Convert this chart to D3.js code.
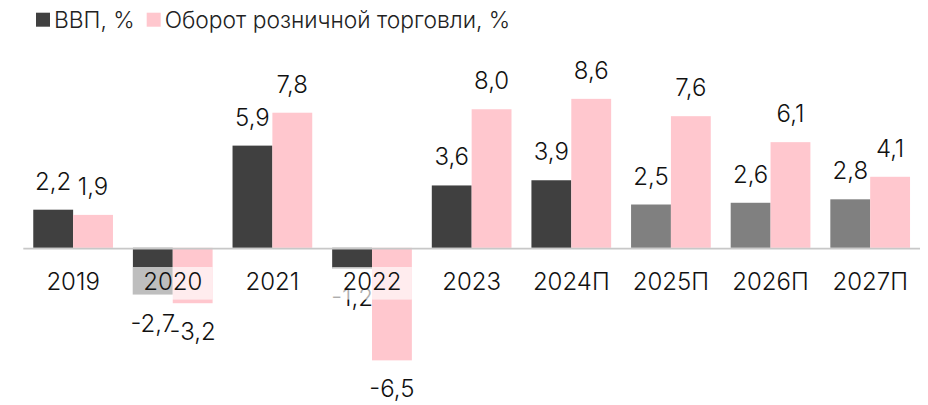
<!DOCTYPE html>
<html>
<head>
<meta charset="utf-8">
<script src="https://cdn.jsdelivr.net/npm/d3@7"></script>
<style>
  body { margin: 0; background: #fff; }
  svg { display: block; }
</style>
</head>
<body>
<svg id="chart" width="928" height="405"></svg>
<script>
const years = ["2019", "2020", "2021", "2022", "2023", "2024П", "2025П", "2026П", "2027П"];
const gdp = [2.2, -2.7, 5.9, -1.2, 3.6, 3.9, 2.5, 2.6, 2.8];
const retail = [1.9, -3.2, 7.8, -6.5, 8.0, 8.6, 7.6, 6.1, 4.1];
const forecast = [false, false, false, false, false, false, true, true, true];
const legend_labels = ["ВВП, %", "Оборот розничной торговли, %"];

const dark = "#404040", grey = "#808080", pink = "#ffc7ce";
const font = "Inter, 'Noto Sans', sans-serif";

const svg = d3.select("#chart");

const x = d3.scaleBand()
  .domain(years)
  .range([23.3, 920])
  .paddingInner(0.2)
  .paddingOuter(0.1);

const x_inner = d3.scaleBand()
  .domain(["gdp", "retail"])
  .range([0, x.bandwidth()]);

const y = d3.scaleLinear()
  .domain([-8.5, 11])
  .range([395, 57.3]);

const fmt = v => d3.format(".1f")(v).replace(".", ",").replace("−", "-");

const rows = years.map((yr, i) => ({
  year: yr,
  bars: [
    { key: "gdp", value: gdp[i], color: forecast[i] ? grey : dark },
    { key: "retail", value: retail[i], color: pink }
  ]
}));

const groups = svg.append("g")
  .selectAll("g")
  .data(rows)
  .join("g")
  .attr("transform", d => `translate(${x(d.year)},0)`);

groups.selectAll("rect")
  .data(d => d.bars)
  .join("rect")
  .attr("x", d => x_inner(d.key))
  .attr("width", x_inner.bandwidth())
  .attr("y", d => y(Math.max(0, d.value)))
  .attr("height", d => Math.abs(y(d.value) - y(0)))
  .attr("fill", d => d.color);

// axis line
svg.append("line")
  .attr("x1", x.range()[0])
  .attr("x2", x.range()[1])
  .attr("y1", y(0) + 0.8)
  .attr("y2", y(0) + 0.8)
  .attr("stroke", "#c8c8c8")
  .attr("stroke-width", 1.8);

// value labels
groups.selectAll("text.val")
  .data(d => d.bars)
  .join("text")
  .attr("class", "val")
  .attr("x", d => x_inner(d.key) + x_inner.bandwidth() / 2)
  .attr("y", d => d.value >= 0 ? y(d.value) - 20 : y(d.value) + 37)
  .attr("text-anchor", "middle")
  .attr("font-family", font)
  .attr("font-weight", 300)
  .attr("font-size", 24)
  .attr("fill", "#111")
  .text(d => fmt(d.value));

// category labels sit on a translucent white box
groups.append("rect")
  .attr("x", 0)
  .attr("width", x.bandwidth())
  .attr("y", y(0) + 19.2)
  .attr("height", 32.6)
  .attr("fill", "#fff")
  .attr("fill-opacity", 0.66);

groups.append("text")
  .attr("x", x.bandwidth() / 2)
  .attr("y", 290)
  .attr("text-anchor", "middle")
  .attr("font-family", font)
  .attr("font-weight", 300)
  .attr("font-size", 24)
  .attr("fill", "#111")
  .text(d => d.year);

// legend
const legend = svg.append("g");
let lx = 36;
legend_labels.forEach((lab, i) => {
  legend.append("rect")
    .attr("x", lx)
    .attr("y", 12.7)
    .attr("width", 14)
    .attr("height", 14)
    .attr("fill", i === 0 ? dark : pink);
  const t = legend.append("text")
    .attr("x", lx + 18)
    .attr("y", 27.5)
    .attr("font-family", font)
    .attr("font-weight", 300)
    .attr("font-size", 22.8)
    .attr("fill", "#222")
    .text(lab);
  lx += 18 + t.node().getComputedTextLength() + 12;
});
</script>
</body>
</html>
